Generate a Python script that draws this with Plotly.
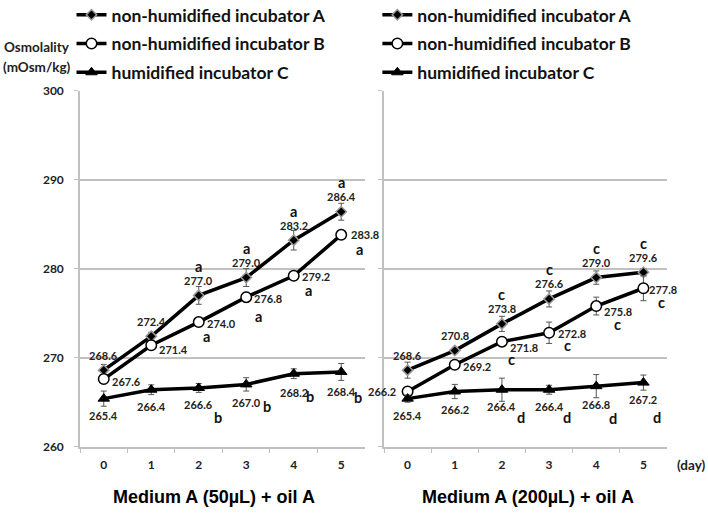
import plotly.graph_objects as go

days = ["0", "1", "2", "3", "4", "5"]

# Medium A (50uL) + oil A
left_a = [268.6, 272.4, 277.0, 279.0, 283.2, 286.4]
left_b = [267.6, 271.4, 274.0, 276.8, 279.2, 283.8]
left_c = [265.4, 266.4, 266.6, 267.0, 268.2, 268.4]
left_a_err = [0.65, 0.45, 1.0, 1.0, 1.1, 0.95]
left_b_err = [0.3, 0.3, 0.3, 0.55, 0.45, 0.5]
left_c_err = [0.85, 0.55, 0.5, 0.75, 0.55, 0.95]
left_a_letters = ["", "", "a", "a", "a", "a"]
left_b_letters = ["", "", "a", "a", "a", "a"]
left_c_letters = ["", "", "b", "b", "b", "b"]

# Medium A (200uL) + oil A
right_a = [268.6, 270.8, 273.8, 276.6, 279.0, 279.6]
right_b = [266.2, 269.2, 271.8, 272.8, 275.8, 277.8]
right_c = [265.4, 266.2, 266.4, 266.4, 266.8, 267.2]
right_a_err = [0.9, 0.3, 0.85, 0.9, 0.75, 0.4]
right_b_err = [0.3, 0.3, 0.3, 1.2, 1.0, 1.4]
right_c_err = [0.4, 0.8, 1.3, 0.5, 1.3, 0.85]
right_a_letters = ["", "", "c", "c", "c", "c"]
right_b_letters = ["", "", "c", "c", "c", "c"]
right_c_letters = ["", "", "d", "d", "d", "d"]

series_names = ["non-humidified incubator A", "non-humidified incubator B", "humidified incubator C"]
panel_titles = ["Medium A (50µL) + oil A", "Medium A (200µL) + oil A"]

LABEL_FONT = dict(family="Lato", size=11, color="#222222", weight="bold")
LETTER_FONT = dict(family="Lato", size=14.5, color="#111111", weight="bold")
GRID = "#c0c0c0"

MARKERS = [
    dict(symbol="diamond", size=8, color="black", line=dict(color="#9a9a9a", width=1.5)),
    dict(symbol="circle", size=10.5, color="white", line=dict(color="black", width=1.5)),
    dict(symbol="triangle-up", size=10, color="black", line=dict(color="black", width=1)),
]

# pixel offsets of value labels / letters for each series (dx, dy), dy positive = down
VALUE_OFFSETS = [
    [(0, -15)] * 6,
    [(23, 2), (22, 4), (23, 1), (22, 1), (22, 1), (24, 0)],
    [(0, 17), (0, 17), (0, 17), (0, 18), (0, 19), (0, 20)],
]
LETTER_OFFSETS = [
    [(0, -29)] * 6,
    [(0, 0), (0, 0), (8, 14), (12, 19), (15, 15), (18, 15)],
    [(0, 0), (0, 0), (19, 30), (21, 22), (16, 23), (17, 26)],
]
RIGHT_VALUE_OFFSETS = [
    [(0, -15)] * 6,
    [(-26, 0), (22, 2), (22, 6), (23, 1), (22, 5), (20, 1)],
    [(0, 17), (0, 18), (0, 17), (0, 17), (0, 18), (0, 17)],
]
RIGHT_LETTER_OFFSETS = [
    [(0, -29)] * 6,
    [(0, 0), (0, 0), (10, 18), (18, 13), (21, 18), (18, 14)],
    [(0, 0), (0, 0), (19, 28), (18, 28), (17, 32), (14, 35)],
]


def add_panel(fig, values, errors, letters, value_offsets, letter_offsets, xref, yref, legend):
    annotations = []
    for i, (ys, err, lets) in enumerate(zip(values, errors, letters)):
        fig.add_trace(go.Scatter(
            x=days, y=ys, xaxis=xref, yaxis=yref,
            mode="lines+markers", name=series_names[i],
            line=dict(color="black", width=3.5),
            marker=MARKERS[i],
            error_y=dict(type="data", array=err, color="#555555", thickness=1, width=3),
            legend=legend, legendgroup=f"{legend}{i}",
        ))
        for j, (d, v) in enumerate(zip(days, ys)):
            dx, dy = value_offsets[i][j]
            annotations.append(dict(
                x=d, y=v, xref=xref, yref=yref, text=f"{v:.1f}", showarrow=False,
                xshift=dx, yshift=-dy, font=LABEL_FONT,
            ))
            if lets[j]:
                lx, ly = letter_offsets[i][j]
                annotations.append(dict(
                    x=d, y=v, xref=xref, yref=yref, text=lets[j], showarrow=False,
                    xshift=lx, yshift=-ly, font=LETTER_FONT,
                ))
    return annotations


fig = go.Figure()
ann = add_panel(fig, [left_a, left_b, left_c], [left_a_err, left_b_err, left_c_err],
                [left_a_letters, left_b_letters, left_c_letters],
                VALUE_OFFSETS, LETTER_OFFSETS, "x", "y", "legend")
ann += add_panel(fig, [right_a, right_b, right_c], [right_a_err, right_b_err, right_c_err],
                 [right_a_letters, right_b_letters, right_c_letters],
                 RIGHT_VALUE_OFFSETS, RIGHT_LETTER_OFFSETS, "x2", "y2", "legend2")

tick_font = dict(family="Lato", size=12, color="#222222", weight="bold")
title_font = dict(family="Liberation Sans", size=18, color="black", weight="bold")
side_font = dict(family="Lato", size=13.5, color="#222222", weight="bold")
paper_text = [
    (0.302, 0.039, panel_titles[0], title_font),
    (0.746, 0.039, panel_titles[1], title_font),
    (0.052, 0.909, "Osmolality", side_font),
    (0.052, 0.870, "(mOsm/kg)", side_font),
    (0.977, 0.101, "(day)", side_font),
]
for px, py, txt, fnt in paper_text:
    ann.append(dict(x=px, y=py, xref="paper", yref="paper", text=txt, showarrow=False,
                    xanchor="center", yanchor="middle", font=fnt))

xaxis_common = dict(
    type="category", range=[-0.5, 5.5], tickson="boundaries", ticks="outside", ticklen=5,
    tickcolor=GRID, showline=True, linecolor=GRID, linewidth=1.5, showgrid=False,
    tickfont=tick_font, ticklabelstandoff=6, fixedrange=True,
)
yaxis_common = dict(
    range=[260, 300], dtick=10, ticks="outside", ticklen=4, tickcolor=GRID,
    showline=True, linecolor=GRID, linewidth=1.5, showgrid=True, gridcolor=GRID,
    gridwidth=1.5, zeroline=False, tickfont=tick_font, fixedrange=True,
)
legend_common = dict(
    font=dict(family="Lato", size=17.5, color="#111111", weight="bold"),
    bgcolor="rgba(0,0,0,0)", xanchor="left", yanchor="top",
    tracegroupgap=3, itemwidth=30,
)

fig.update_layout(
    width=708, height=517, template="simple_white",
    margin=dict(l=0, r=0, t=0, b=0, autoexpand=False),
    plot_bgcolor="white", paper_bgcolor="white",
    xaxis=dict(domain=[0.113, 0.5155], anchor="y", **xaxis_common),
    xaxis2=dict(domain=[0.5424, 0.9421], anchor="y2", **xaxis_common),
    yaxis=dict(domain=[0.136, 0.8246], anchor="x", ticklabelstandoff=8, **yaxis_common),
    yaxis2=dict(domain=[0.136, 0.8246], anchor="x2", showticklabels=False, **yaxis_common),
    legend=dict(x=0.101, y=1.006, **legend_common),
    legend2=dict(x=0.533, y=1.006, **legend_common),
    annotations=ann,
    showlegend=True,
)

# page body has a default 8px margin; drop it so the figure fills the window
fig.write_html("out.html", config={"displayModeBar": False},
               post_script="document.body.style.margin='0';")
